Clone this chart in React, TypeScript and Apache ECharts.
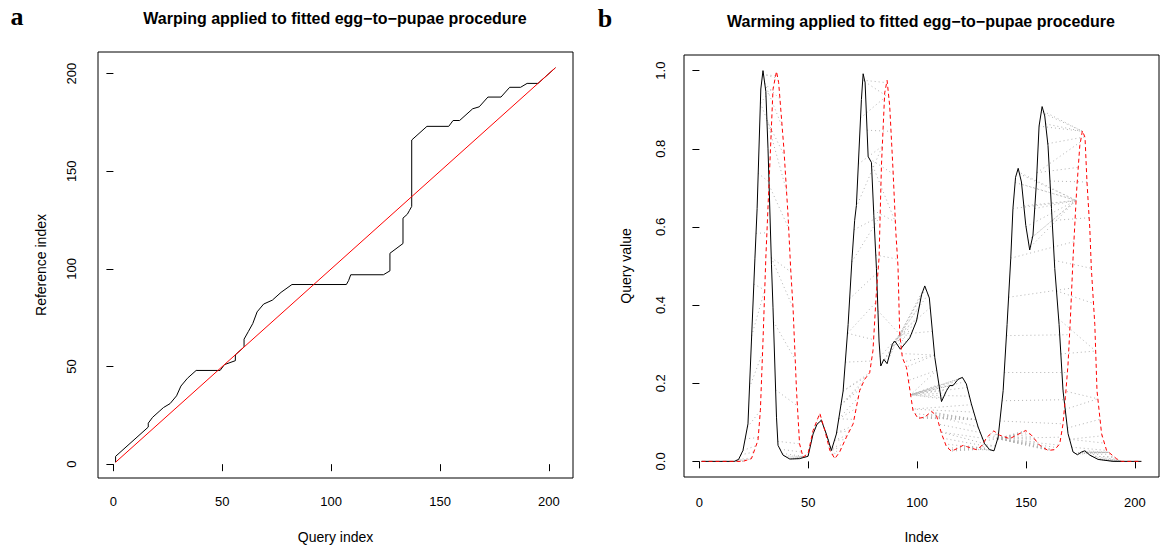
import React, { useEffect, useRef } from "react";
import * as echarts from "echarts";

// ---- data ----
const xTicks = [0, 50, 100, 150, 200];
const yTicksA = [0, 50, 100, 150, 200];
const yTicksB = [0, 0.2, 0.4, 0.6, 0.8, 1.0];

// warping path: [query index, reference index]
const warpPath: [number, number][] = [
  [1, 1], [1, 4], [16, 19], [16, 21], [18, 24], [21, 27], [23, 29], [26, 31], [29, 35], [31, 40],
  [34, 44], [38, 48], [49, 48], [51, 51], [56, 53], [56, 56], [60, 60], [60, 64], [62, 68], [64, 72],
  [66, 78], [69, 82], [73, 84], [77, 88], [82, 92], [107, 92], [108, 94], [109, 97], [124, 97], [127, 99],
  [127, 108], [133, 113], [133, 126], [135, 128], [136, 130], [137, 132], [137, 166], [144, 173], [154, 173], [156, 176],
  [159, 176], [165, 182], [168, 183], [172, 188], [178, 188], [182, 193], [187, 193], [190, 195], [195, 195], [203, 203],
];

const diagonal: [number, number][] = [[1, 1], [203, 203]];

// query (black) : [index, value]
const queryPts: [number, number][] = [
  [1, 0], [16, 0], [18, 0.005], [20, 0.028], [22.3, 0.096], [23.9, 0.308], [25.5, 0.52], [26.5, 0.647],
  [28.2, 0.953], [29.2, 1.0], [30.5, 0.947], [31.5, 0.8], [33.1, 0.503], [33.8, 0.393], [35.4, 0.113],
  [36.1, 0.041], [38.4, 0.016], [41.5, 0.006], [46, 0.007], [49.9, 0.013], [52.2, 0.07], [54, 0.095],
  [56, 0.105], [58.3, 0.07], [60.6, 0.028], [62.9, 0.07], [66, 0.18], [68.3, 0.35], [70.1, 0.52],
  [71.3, 0.617], [72.1, 0.655], [74.4, 0.926], [75.2, 0.992], [76.1, 0.969], [77.5, 0.78], [79, 0.765],
  [80.1, 0.63], [81.3, 0.494], [82.5, 0.308], [83.3, 0.244], [84.7, 0.261], [86.2, 0.25], [88.6, 0.3],
  [89.7, 0.308], [92.3, 0.287], [96.6, 0.316], [99.7, 0.359], [102, 0.426], [103.5, 0.449], [105.6, 0.418],
  [108.1, 0.266], [111.2, 0.153], [113.5, 0.181], [115, 0.194], [116.5, 0.194], [118.8, 0.21], [120.8, 0.215],
  [122.6, 0.198], [124.9, 0.147], [128, 0.088], [131, 0.045], [133.3, 0.03], [135.3, 0.027], [137.2, 0.062],
  [139.5, 0.181], [141.3, 0.35], [143, 0.52], [144, 0.647], [145.2, 0.727], [146.4, 0.75], [147.9, 0.715],
  [149.9, 0.604], [151.7, 0.541], [153.2, 0.579], [154.8, 0.715], [156, 0.858], [157.4, 0.908], [158.6, 0.884],
  [160.1, 0.808], [161.7, 0.647], [163.2, 0.494], [165.2, 0.35], [167, 0.181], [169.3, 0.071], [171.6, 0.024],
  [173.6, 0.017], [175.5, 0.024], [177, 0.027], [179.3, 0.016], [183.1, 0.005], [190, 0], [203, 0],
];

// reference (red dashed) : [index, value]
const refPts: [number, number][] = [
  [1, 0], [20, 0], [23.9, 0.007], [26.9, 0.054], [28, 0.13], [29.2, 0.308], [30.5, 0.52], [32, 0.715],
  [33.8, 0.952], [35.4, 0.998], [36.4, 0.969], [38.8, 0.8], [40.7, 0.63], [41.9, 0.494], [43, 0.393],
  [44.6, 0.181], [46, 0.045], [47.6, 0.011], [49.9, 0.02], [52.2, 0.079], [55.3, 0.123], [57.6, 0.079],
  [59.9, 0.028], [62.2, 0.007], [64.4, 0.024], [67.5, 0.062], [70.6, 0.096], [73.6, 0.181], [75.9, 0.21],
  [78.2, 0.227], [79.7, 0.283], [81.3, 0.435], [82.5, 0.52], [83.6, 0.757], [85.1, 0.943], [86.2, 0.975],
  [87.4, 0.909], [88.9, 0.748], [90.2, 0.588], [91.2, 0.5], [92, 0.325], [93.2, 0.266], [95.1, 0.24],
  [98.1, 0.13], [100.4, 0.11], [103.5, 0.113], [106.6, 0.128], [108.9, 0.117], [111.2, 0.071], [113.5, 0.037],
  [115.8, 0.026], [118.8, 0.034], [121.1, 0.041], [124.2, 0.035], [127.2, 0.03], [129.5, 0.039], [132.1, 0.062],
  [135.2, 0.078], [137.9, 0.067], [142.5, 0.058], [145.6, 0.067], [149.9, 0.079], [152.5, 0.067], [156.3, 0.041],
  [160.1, 0.028], [163.2, 0.03], [165.5, 0.045], [167, 0.096], [168.1, 0.164], [169.3, 0.249], [170.4, 0.367],
  [171.6, 0.52], [173.2, 0.689], [174.7, 0.808], [175.9, 0.846], [177.1, 0.829], [178, 0.715], [179.3, 0.596],
  [180, 0.494], [181.6, 0.35], [182.6, 0.181], [184.7, 0.071], [187, 0.028], [191.5, 0.007], [193.8, 0], [203, 0],
];

const F = '"Liberation Sans", Arial, Helvetica, sans-serif';

// value of a drawn curve at index x (locates connector ends on the curves)
function valueAt(pts: [number, number][], x: number): number {
  if (x <= pts[0][0]) return pts[0][1];
  for (let k = 1; k < pts.length; k++) {
    const [x1, y1] = pts[k];
    const [x0, y0] = pts[k - 1];
    if (x <= x1) return y0 + ((y1 - y0) * (x - x0)) / (x1 - x0 || 1);
  }
  return pts[pts.length - 1][1];
}

// each step of the warping path as a matched pair
function pathSteps(path: [number, number][]): [number, number][] {
  const out: [number, number][] = [];
  for (let k = 1; k < path.length; k++) {
    const [i0, j0] = path[k - 1];
    const [i1, j1] = path[k];
    const n = Math.max(Math.abs(i1 - i0), Math.abs(j1 - j0), 1);
    for (let s = 0; s < n; s++) {
      out.push([Math.round(i0 + ((i1 - i0) * s) / n), Math.round(j0 + ((j1 - j0) * s) / n)]);
    }
  }
  out.push(path[path.length - 1]);
  return out;
}

export default function App() {
  const ref = useRef<HTMLDivElement>(null);
  useEffect(() => {
    if (!ref.current) return;
    const chart = echarts.init(ref.current, undefined, { renderer: "svg" });
    const matches = pathSteps(warpPath).map(([i, j]) => ({
      coords: [
        [i, valueAt(queryPts, i)],
        [j, valueAt(refPts, j)],
      ],
    }));
    const tickLabel = { fontSize: 13, color: "#000", fontFamily: F };
    const nameStyle = { fontSize: 14, color: "#000", fontFamily: F };
    const axisCommon = {
      type: "value",
      axisLine: { show: false },
      splitLine: { show: false },
    };
    const titleFont = `bold 16px ${F}`;
    const option: any = {
      animation: false,
      backgroundColor: "#fff",
      grid: [
        { left: 98, top: 52, width: 475, height: 426, show: true, borderColor: "#000", borderWidth: 1 },
        { left: 684, top: 55, width: 475, height: 425, show: true, borderColor: "#000", borderWidth: 1 },
      ],
      xAxis: [
        {
          ...axisCommon,
          gridIndex: 0,
          min: -7.08,
          max: 211.08,
          axisTick: { show: true, length: 7, lineStyle: { color: "#000" }, customValues: xTicks },
          axisLabel: { ...tickLabel, margin: 17, customValues: xTicks },
          name: "Query index",
          nameLocation: "middle",
          nameGap: 52,
          nameTextStyle: nameStyle,
        },
        {
          ...axisCommon,
          gridIndex: 1,
          min: -7.08,
          max: 211.08,
          axisTick: { show: true, length: 7, lineStyle: { color: "#000" }, customValues: xTicks },
          axisLabel: { ...tickLabel, margin: 19, customValues: xTicks },
          name: "Index",
          nameLocation: "middle",
          nameGap: 53,
          nameTextStyle: nameStyle,
        },
      ],
      yAxis: [
        {
          ...axisCommon,
          gridIndex: 0,
          min: -7.08,
          max: 211.08,
          axisTick: { show: true, length: 7, lineStyle: { color: "#000" }, customValues: yTicksA },
          axisLabel: { ...tickLabel, margin: 20, rotate: 90, customValues: yTicksA },
          name: "Reference index",
          nameLocation: "middle",
          nameGap: 50,
          nameTextStyle: nameStyle,
        },
        {
          ...axisCommon,
          gridIndex: 1,
          min: -0.04,
          max: 1.04,
          axisTick: { show: true, length: 7, lineStyle: { color: "#000" }, customValues: yTicksB },
          axisLabel: {
            ...tickLabel,
            margin: 17,
            rotate: 90,
            customValues: yTicksB,
            formatter: (v: number) => v.toFixed(1),
          },
          name: "Query value",
          nameLocation: "middle",
          nameGap: 51,
          nameTextStyle: nameStyle,
        },
      ],
      graphic: [
        {
          type: "text",
          x: 335,
          y: 18,
          style: {
            text: "Warping applied to fitted egg\u2212to\u2212pupae procedure",
            font: titleFont,
            textAlign: "center",
            textVerticalAlign: "middle",
            fill: "#000",
          },
        },
        {
          type: "text",
          x: 921,
          y: 21,
          style: {
            text: "Warming applied to fitted egg\u2212to\u2212pupae procedure",
            font: titleFont,
            textAlign: "center",
            textVerticalAlign: "middle",
            fill: "#000",
          },
        },
        {
          type: "text",
          x: 17,
          y: 16,
          style: {
            text: "a",
            font: 'bold 26px "Liberation Serif", "Times New Roman", serif',
            textAlign: "center",
            textVerticalAlign: "middle",
            fill: "#000",
          },
        },
        {
          type: "text",
          x: 605,
          y: 18,
          style: {
            text: "b",
            font: 'bold 26px "Liberation Serif", "Times New Roman", serif',
            textAlign: "center",
            textVerticalAlign: "middle",
            fill: "#000",
          },
        },
      ],
      series: [
        {
          type: "line",
          xAxisIndex: 0,
          yAxisIndex: 0,
          data: warpPath,
          showSymbol: false,
          lineStyle: { color: "#000", width: 1 },
          z: 3,
        },
        {
          type: "line",
          xAxisIndex: 0,
          yAxisIndex: 0,
          data: diagonal,
          showSymbol: false,
          lineStyle: { color: "#ff0000", width: 1 },
          z: 4,
        },
        {
          type: "line",
          xAxisIndex: 1,
          yAxisIndex: 1,
          data: queryPts,
          showSymbol: false,
          lineStyle: { color: "#000", width: 1 },
          z: 3,
        },
        {
          type: "line",
          xAxisIndex: 1,
          yAxisIndex: 1,
          data: refPts,
          showSymbol: false,
          lineStyle: { color: "#ff0000", width: 1, type: [4, 3] },
          z: 3,
        },
        {
          type: "lines",
          coordinateSystem: "cartesian2d",
          xAxisIndex: 1,
          yAxisIndex: 1,
          data: matches,
          lineStyle: { color: "#b3b3b3", width: 1, type: [1, 3], opacity: 1 },
          z: 2,
        },
      ],
    };
    chart.setOption(option);
    return () => chart.dispose();
  }, []);
  return (
    <div
      ref={ref}
      style={{ position: "absolute", left: 0, top: 0, width: 1162, height: 549, background: "#fff" }}
    />
  );
}
